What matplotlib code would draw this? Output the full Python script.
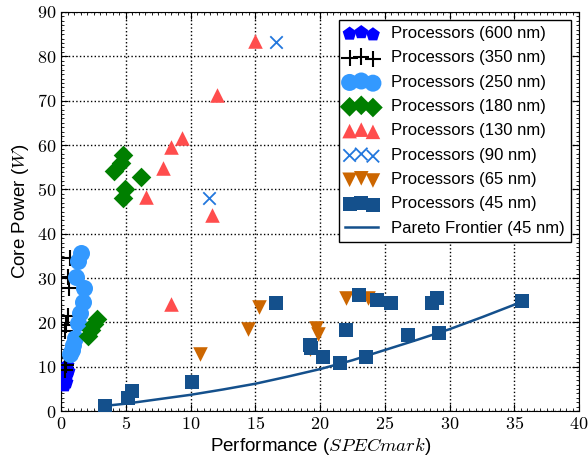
import numpy as np
import matplotlib
matplotlib.use("Agg")
import matplotlib.pyplot as plt
from matplotlib.ticker import MultipleLocator, FuncFormatter

plt.rcParams['font.family'] = ['Liberation Sans', 'DejaVu Sans']
plt.rcParams['mathtext.fontset'] = 'cm'

# performance (SPECmark) and core power (W) per process node
perf_600 = [0.3, 0.4, 0.5, 0.3, 0.4, 0.35, 0.25, 0.45]
power_600 = [7.0, 8.0, 9.0, 10.0, 6.5, 8.5, 5.8, 10.5]

perf_350 = [0.7, 0.5, 0.6, 0.5, 0.4, 0.3, 0.3, 0.4, 0.3]
power_350 = [34.5, 30.3, 27.7, 21.5, 19.4, 18.0, 12.2, 10.4, 9.2]

perf_250 = [1.55, 1.3, 1.15, 1.8, 1.7, 1.45, 1.3, 1.05, 0.9, 0.8, 0.7]
power_250 = [35.7, 33.8, 30.3, 27.7, 24.6, 22.2, 19.8, 16.5, 15.0, 13.8, 13.0]

perf_180 = [4.8, 4.6, 4.1, 6.2, 4.9, 4.75, 2.8, 2.55, 2.3, 2.05]
power_180 = [57.7, 56.0, 54.2, 52.8, 50.2, 48.0, 20.8, 19.6, 18.2, 17.0]

perf_130 = [15.0, 12.0, 9.3, 8.5, 7.85, 6.55, 11.65, 8.5]
power_130 = [83.4, 71.3, 61.6, 59.6, 54.8, 48.2, 44.2, 24.2]

perf_90 = [16.6, 11.4]
power_90 = [83.2, 48.0]

perf_65 = [10.7, 14.4, 15.3, 19.7, 19.8, 19.2, 22.0, 23.7]
power_65 = [13.0, 18.6, 23.4, 18.7, 17.3, 14.0, 25.6, 25.5]

perf_45 = [3.35, 5.2, 5.5, 10.1, 16.6, 19.2, 19.3, 20.2, 21.5, 22.0, 23.0,
           23.55, 24.4, 25.5, 26.8, 28.6, 29.0, 29.2, 35.6]
power_45 = [1.2, 2.9, 4.6, 6.6, 24.3, 15.0, 14.3, 12.2, 10.8, 18.4, 26.3,
            12.3, 25.0, 24.4, 17.2, 24.5, 25.6, 17.7, 24.8]

# pareto frontier curve for the 45 nm parts
pareto_perf = [3.35, 5.0, 7.5, 10.0, 12.5, 15.0, 17.5, 20.0, 22.5, 25.0,
               27.5, 30.0, 32.5, 35.6]
pareto_power = [1.2, 1.7, 2.7, 3.7, 4.9, 6.2, 7.8, 9.5, 11.5, 13.8,
                16.1, 18.5, 21.2, 24.7]

fig = plt.figure(figsize=(5.88, 4.61), dpi=100)
ax = fig.add_axes([0.104, 0.108, 0.881, 0.866])

ax.scatter(perf_600, power_600, s=110, marker='p', color='#0000ff', lw=0,
           label='Processors (600 nm)', zorder=3)
ax.scatter(perf_350, power_350, s=140, marker='+', color='black', lw=1.5,
           label='Processors (350 nm)', zorder=3)
ax.scatter(perf_250, power_250, s=150, marker='o', color='#3399ff', lw=0,
           label='Processors (250 nm)', zorder=3)
ax.scatter(perf_180, power_180, s=100, marker='D', color='#007f00', lw=0,
           label='Processors (180 nm)', zorder=3)
ax.scatter(perf_130, power_130, s=110, marker='^', color='#ff4d4d', lw=0,
           label='Processors (130 nm)', zorder=3)
ax.scatter(perf_90, power_90, s=80, marker='x', color='#2277dd', lw=1.3,
           label='Processors (90 nm)', zorder=3)
ax.scatter(perf_65, power_65, s=110, marker='v', color='#cc6600', lw=0,
           label='Processors (65 nm)', zorder=3)
ax.scatter(perf_45, power_45, s=100, marker='s', color='#14508c', lw=0,
           label='Processors (45 nm)', zorder=3)
ax.plot(pareto_perf, pareto_power, color='#14508c', lw=1.8,
        label='Pareto Frontier (45 nm)', zorder=2)

ax.set_xlim(0, 40)
ax.set_ylim(0, 90)
ax.xaxis.set_major_locator(MultipleLocator(5))
ax.yaxis.set_major_locator(MultipleLocator(10))
ax.xaxis.set_minor_locator(MultipleLocator(0.5))
ax.yaxis.set_minor_locator(MultipleLocator(1))
fmt = FuncFormatter(lambda v, p: r'$%d$' % v)
ax.xaxis.set_major_formatter(fmt)
ax.yaxis.set_major_formatter(fmt)
ax.tick_params(which='both', direction='in', top=True, right=True,
               labelsize=13, color='black')
ax.tick_params(which='major', length=5)
ax.tick_params(which='minor', length=2.5)
ax.grid(True, which='major', ls=':', color='black', lw=1)

ax.set_xlabel(r'Performance ($SPECmark$)', fontsize=13.5, labelpad=2)
ax.set_ylabel(r'Core Power ($W$)', fontsize=13.5, labelpad=4)

leg = ax.legend(loc='upper right', scatterpoints=3,
                scatteryoffsets=[0.375, 0.5, 0.3125], fontsize=12,
                fancybox=False, framealpha=1, edgecolor='black',
                handlelength=2.0, labelspacing=0.56, borderpad=0.35,
                handletextpad=0.8, borderaxespad=0.5)
leg.get_frame().set_linewidth(1.0)

fig.savefig('out.png', dpi=100)
